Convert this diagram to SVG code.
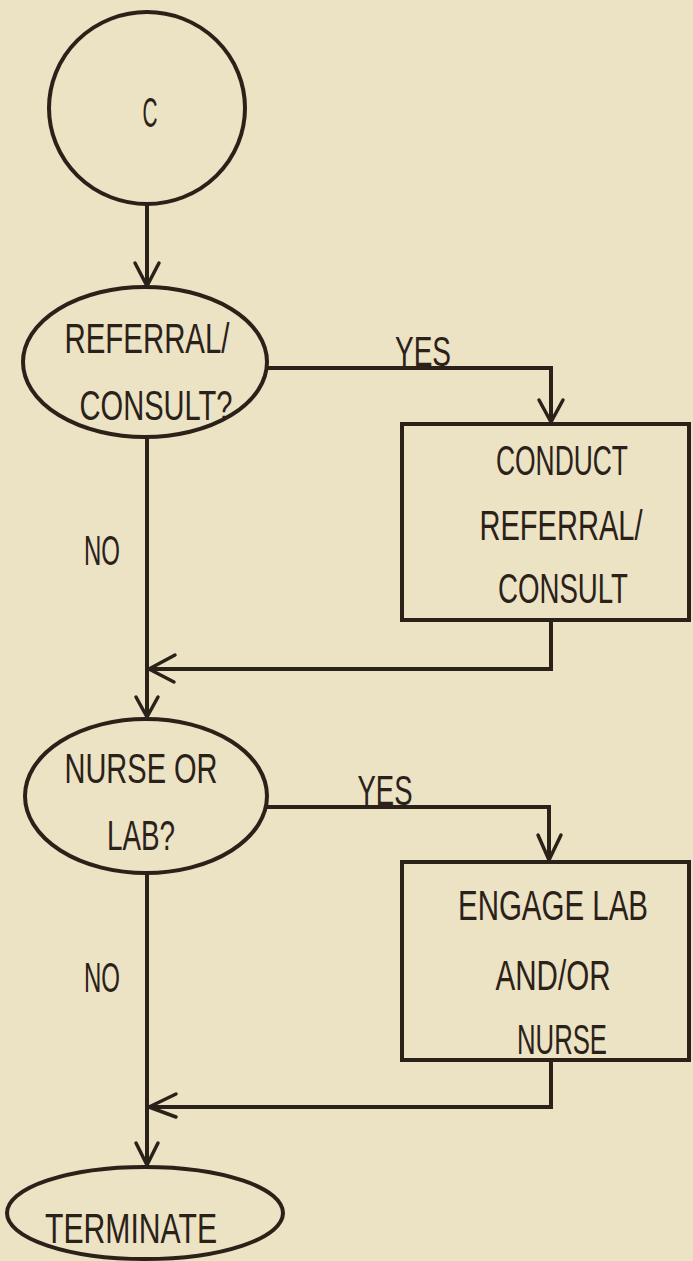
<svg xmlns="http://www.w3.org/2000/svg" width="693" height="1261" viewBox="0 0 693 1261">
<style>
.shape{fill:none;stroke:#2a2119;stroke-width:4}
.conn{fill:none;stroke:#2a2119;stroke-width:4;stroke-linejoin:miter}
.head{fill:none;stroke:#2a2119;stroke-width:3.5;stroke-linecap:round;stroke-linejoin:round}
text{font-family:"Liberation Sans Narrow","Liberation Sans",Arial,sans-serif;font-size:42px;fill:#2a2119;text-anchor:middle}
</style>
<rect x="0" y="0" width="693" height="1261" fill="#ece2c4"/>
<g id="connectors">
<path class="conn" d="M147,204 V285"/>
<path class="head" d="M135,263 L147,286 L159,263"/>
<path class="conn" d="M267,368 H551 V422"/>
<path class="head" d="M539,400 L551,422 L563,400"/>
<path class="conn" d="M147,437 V717"/>
<path class="head" d="M136,697 L147,717 L158,697"/>
<path class="conn" d="M551,620 V669 H149"/>
<path class="head" d="M175,655 L149,669 L174,682"/>
<path class="conn" d="M266,807 H549 V860"/>
<path class="head" d="M538,835 L549,860 L561,835"/>
<path class="conn" d="M147,873 V1165"/>
<path class="head" d="M136,1143 L147,1165 L158,1143"/>
<path class="conn" d="M551,1060 V1107 H149"/>
<path class="head" d="M176,1094 L149,1107 L176,1117"/>
<text x="423" y="366" textLength="56" lengthAdjust="spacingAndGlyphs">YES</text>
<text x="102" y="565" textLength="36" lengthAdjust="spacingAndGlyphs">NO</text>
<text x="385" y="805" textLength="55" lengthAdjust="spacingAndGlyphs">YES</text>
<text x="102" y="992" textLength="36" lengthAdjust="spacingAndGlyphs">NO</text>
</g>
<g id="start">
<ellipse class="shape" cx="147" cy="108" rx="98" ry="96"/>
<text x="150" y="127" textLength="15" lengthAdjust="spacingAndGlyphs">C</text>
</g>
<g id="referral-decision">
<ellipse class="shape" cx="145" cy="362" rx="122" ry="75"/>
<text x="147" y="353" textLength="165" lengthAdjust="spacingAndGlyphs">REFERRAL/</text>
<text x="156" y="420" textLength="153" lengthAdjust="spacingAndGlyphs">CONSULT?</text>
</g>
<g id="conduct-referral">
<rect class="shape" x="402" y="424" width="287" height="196"/>
<text x="562" y="475" textLength="132" lengthAdjust="spacingAndGlyphs">CONDUCT</text>
<text x="561" y="540" textLength="163" lengthAdjust="spacingAndGlyphs">REFERRAL/</text>
<text x="563" y="603" textLength="130" lengthAdjust="spacingAndGlyphs">CONSULT</text>
</g>
<g id="nurse-decision">
<ellipse class="shape" cx="146" cy="796" rx="121" ry="77"/>
<text x="141" y="783" textLength="153" lengthAdjust="spacingAndGlyphs">NURSE OR</text>
<text x="141" y="850" textLength="68" lengthAdjust="spacingAndGlyphs">LAB?</text>
</g>
<g id="engage-lab">
<rect class="shape" x="402" y="862" width="287" height="198"/>
<text x="553" y="920" textLength="190" lengthAdjust="spacingAndGlyphs">ENGAGE LAB</text>
<text x="553" y="990" textLength="115" lengthAdjust="spacingAndGlyphs">AND/OR</text>
<text x="562" y="1054" textLength="90" lengthAdjust="spacingAndGlyphs">NURSE</text>
</g>
<g id="terminate">
<ellipse class="shape" cx="145" cy="1213" rx="138" ry="46"/>
<text x="131" y="1243" textLength="172" lengthAdjust="spacingAndGlyphs">TERMINATE</text>
</g>
</svg>
